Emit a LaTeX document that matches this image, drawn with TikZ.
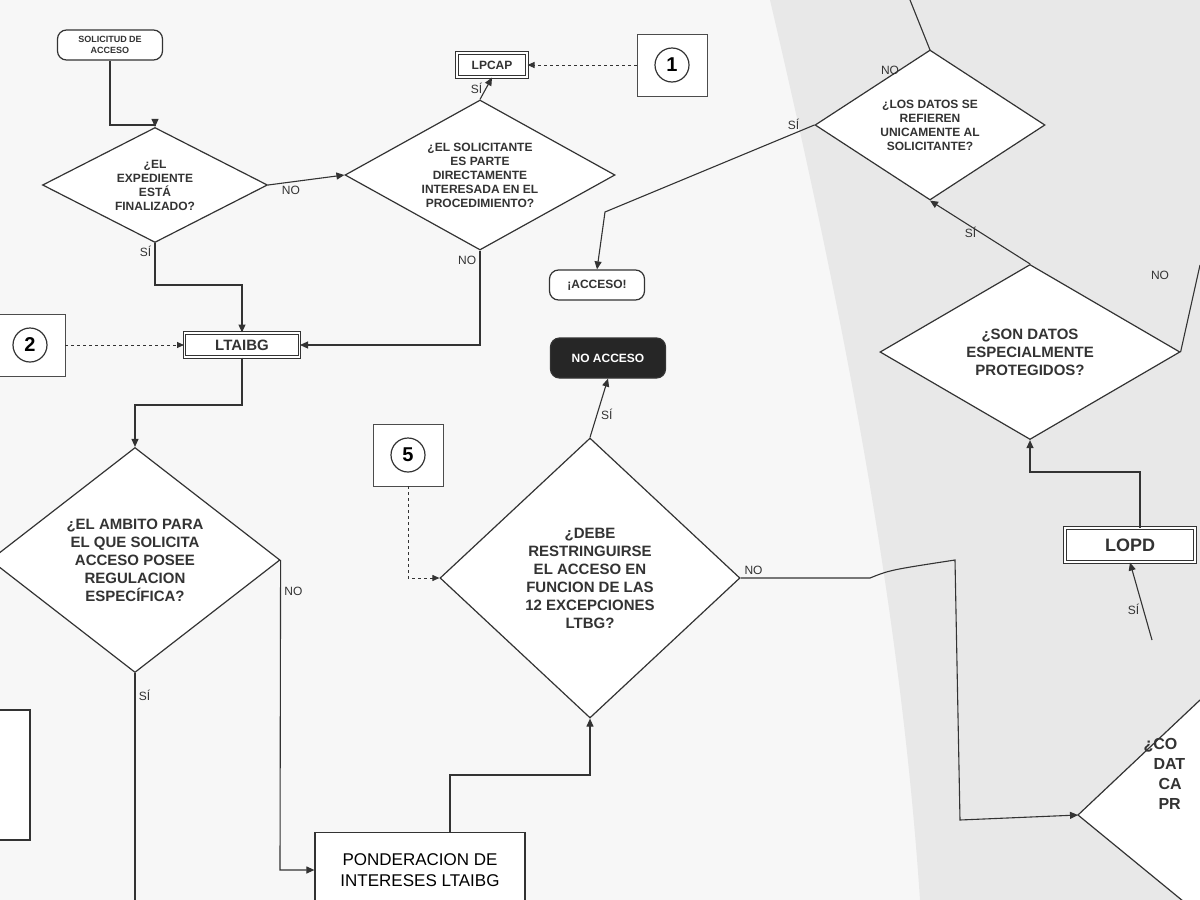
\documentclass[tikz,border=0pt]{standalone}
\usepackage{fontspec}
\setmainfont{Liberation Sans}
\usetikzlibrary{shapes.geometric,arrows.meta}
\begin{document}
\begin{tikzpicture}[x=1pt,y=-1pt,
  txt/.style={font=\bfseries\fontsize{12}{14}\selectfont,align=center,text=black!80},
  dia/.style={diamond,draw=black!80,line width=1.2pt,fill=white,txt,aspect=1.6,inner sep=0pt},
  rbox/.style={rounded corners=9pt,draw=black!80,line width=1.2pt,fill=white,txt,minimum height=30pt},
  dbox/.style={draw=black!80,double,double distance=1.5pt,line width=1pt,fill=white,txt,minimum height=24pt},
  doc/.style={draw=black!70,line width=0.8pt,fill=white,minimum width=70pt,minimum height=62pt},
  num/.style={circle,draw=black!80,line width=1.2pt,font=\bfseries\fontsize{20}{22}\selectfont,inner sep=3pt,minimum size=34pt},
  arr/.style={-{Triangle[length=8pt,width=7pt]},line width=1.1pt,draw=black!80},
  dasharr/.style={-{Triangle[length=7pt,width=6pt]},line width=1pt,dashed,draw=black!80},
  lab/.style={font=\fontsize{12}{14}\selectfont,text=black!80}]
\useasboundingbox (0,0) rectangle (1200,900);
\fill[black!3] (0,0) rectangle (1200,900);
\fill[black!9] (770,0) .. controls (840,300) and (900,600) .. (920,900) -- (1200,900) -- (1200,0) -- cycle;
% nodes
\node[rbox,minimum width=105pt,font=\bfseries\fontsize{9}{11}\selectfont] (sol) at (110,45) {SOLICITUD DE\\ACCESO};
\node[dia,minimum width=225pt,minimum height=115pt] (d1) at (155,185) {¿EL\\EXPEDIENTE\\ESTÁ\\FINALIZADO?};
\node[dia,minimum width=270pt,minimum height=150pt] (d2) at (480,175) {¿EL SOLICITANTE\\ES PARTE\\DIRECTAMENTE\\INTERESADA EN EL\\PROCEDIMIENTO?};
\node[dbox,minimum width=70pt] (lpcap) at (492,65) {LPCAP};
\node[doc] (doc1) at (672,65) {};
\node[num] at (672,65) {1};
\node[rbox,minimum width=95pt] (acc) at (597,285) {¡ACCESO!};
\node[dbox,minimum width=115pt,font=\bfseries\fontsize{15}{17}\selectfont] (ltaibg) at (242,345) {LTAIBG};
\node[doc] (doc2) at (30,345) {};
\node[num] at (30,345) {2};
\node[rbox,fill=black!85,text=white,minimum width=115pt,minimum height=40pt] (noacc) at (608,358) {NO ACCESO};
\node[doc] (doc5) at (408,455) {};
\node[num] at (408,455) {5};
\node[dia,minimum width=290pt,minimum height=225pt,font=\bfseries\fontsize{15}{18}\selectfont] (d3) at (135,560) {¿EL AMBITO PARA\\EL QUE SOLICITA\\ACCESO POSEE\\REGULACION\\ESPECÍFICA?};
\node[dia,minimum width=300pt,minimum height=280pt,font=\bfseries\fontsize{15}{18}\selectfont] (d4) at (590,578) {¿DEBE\\RESTRINGUIRSE\\EL ACCESO EN\\FUNCION DE LAS\\12 EXCEPCIONES\\LTBG?};
\node[draw=black!80,line width=1.2pt,fill=white,font=\fontsize{17}{21}\selectfont,align=center,minimum width=210pt,minimum height=75pt] (pond) at (420,870) {PONDERACION DE\\INTERESES LTAIBG};
\node[draw=black!80,line width=1.2pt,fill=white,minimum width=60pt,minimum height=130pt] (lbox) at (0,775) {};
% right page
\node[dia,minimum width=230pt,minimum height=150pt] (d5) at (930,125) {¿LOS DATOS SE\\REFIEREN\\UNICAMENTE AL\\SOLICITANTE?};
\node[dia,minimum width=300pt,minimum height=175pt,font=\bfseries\fontsize{15}{18}\selectfont] (d6) at (1030,352) {¿SON DATOS\\ESPECIALMENTE\\PROTEGIDOS?};
\node[dbox,minimum width=130pt,minimum height=34pt,font=\bfseries\fontsize{18}{20}\selectfont] (lopd) at (1130,545) {LOPD};
\draw[draw=black!80,line width=1.2pt,fill=white] (1200,700) -- (1078,815) -- (1200,915);
\node[txt,font=\bfseries\fontsize{16}{20}\selectfont,align=left,anchor=north west] (d7) at (1140,735) {¿CO\\\hspace*{10pt}DAT\\\hspace*{15pt}CA\\\hspace*{15pt}PR};
\coordinate (d7w) at (1078,815);
% connectors
\draw[arr] (sol.south) |- (155,125) -- (d1.north);
\draw[arr] (d1.east) -- node[lab,below,pos=0.3]{NO} (d2.west);
\draw[arr] (d1.south) -- node[lab,left,pos=0.2]{SÍ} (155,285) -| (ltaibg.north);
\draw[arr] (d2.north) -- node[lab,left]{SÍ} (lpcap.south);
\draw[dasharr] (doc1.west) -- (lpcap.east);
\draw[arr] (d2.south) -- node[lab,left,pos=0.1]{NO} (480,345) -- (ltaibg.east);
\draw[dasharr] (doc2.east) -- (ltaibg.west);
\draw[arr] (ltaibg.south) |- (135,405) -- (d3.north);
\draw[arr] (d3.east) -- node[lab,right,pos=0.1]{NO} (280,870) -- (pond.west);
\draw[line width=1.1pt,black!80] (d3.south) -- node[lab,right,pos=0.1]{SÍ} (135,900);
\draw[arr] (450,832) |- (590,775) -- (d4.south);
\draw[arr] (d4.north) -- node[lab,right,pos=0.4]{SÍ} (noacc.south);
\draw[dasharr] (doc5.south) |- (d4.west);
\draw[arr] (d4.east) -- node[lab,above,pos=0.1]{NO} (870,578) .. controls (890,570) .. (955,560) -- (960,820) -- (d7w);
\draw[arr] (1140,528) -- (1140,472) -- (1030,472) -- (d6.south);
\draw[arr] (1152,640) -- node[lab,left,pos=0.4]{SÍ} (lopd.south);
\draw[arr] (d6.north) -- node[lab,left]{SÍ} (d5.south);
\draw[arr] (d5.west) -- node[lab,above,pos=0.1]{SÍ} (605,212) -- (acc.north);
\node[lab] at (890,70) {NO};
\node[lab] at (1160,275) {NO};
\draw[line width=1.1pt,black!80] (910,0) -- (930,50);
\draw[line width=1.1pt,black!80] (d6.east) -- (1200,265);
\end{tikzpicture}
\end{document}
